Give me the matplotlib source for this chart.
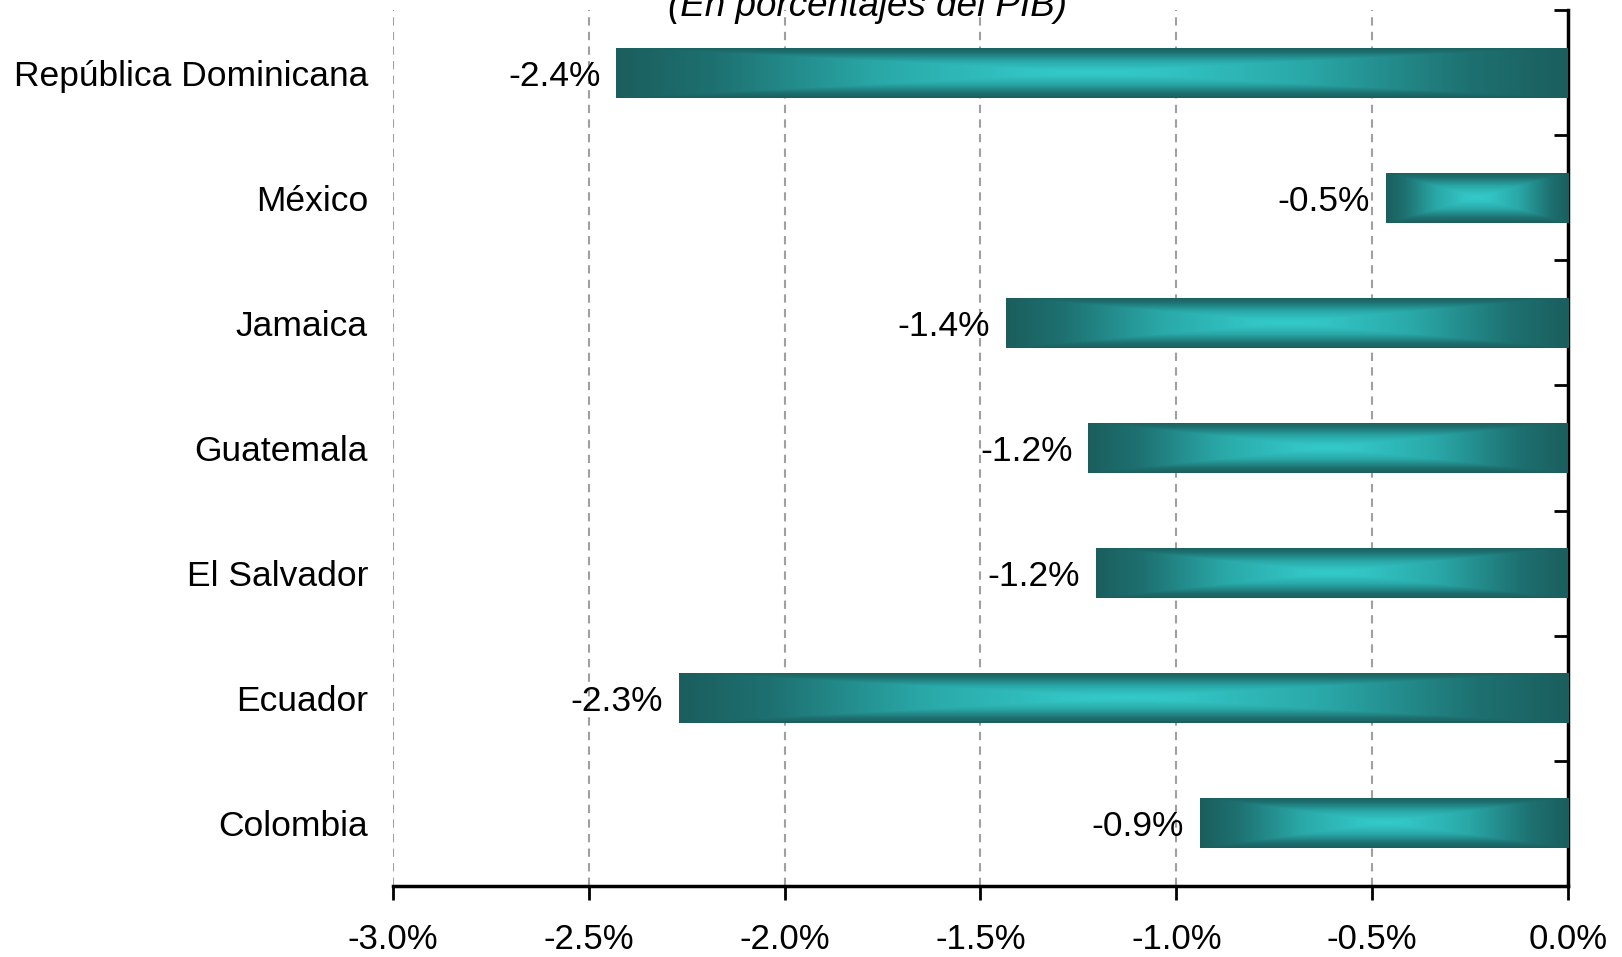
import numpy as np
import matplotlib
matplotlib.use("Agg")
import matplotlib.pyplot as plt
from matplotlib.colors import LinearSegmentedColormap
from matplotlib.ticker import FixedLocator, FuncFormatter

categories = ["República Dominicana", "México", "Jamaica", "Guatemala",
              "El Salvador", "Ecuador", "Colombia"]
values = [-2.43, -0.465, -1.435, -1.225, -1.205, -2.27, -0.94]
xticks = [-3.0, -2.5, -2.0, -1.5, -1.0, -0.5, 0.0]
title = "(En porcentajes del PIB)"

plt.rcParams['font.family'] = ['Liberation Sans', 'DejaVu Sans']

fig = plt.figure(figsize=(16.22, 9.57), dpi=100)
ax = fig.add_axes([0.2423, 0.0742, 0.9667 - 0.2423, 0.9895 - 0.0742])

ypos = np.arange(len(categories))
bars = ax.barh(ypos, values, height=0.40, color='none', edgecolor='none', zorder=3)

cmap = LinearSegmentedColormap.from_list(
    "tealbox",
    [(0.0, "#34caca"), (0.12, "#33c5c5"), (0.45, "#2aa8a8"),
     (0.8, "#1e7070"), (1.0, "#1b5e5e")])

ny, nx = 120, 600
yy = np.linspace(-1, 1, ny)[:, None]
xx = np.linspace(-1, 1, nx)[None, :]
grad = np.maximum(np.abs(xx), np.abs(yy))

for b in bars:
    x0, y0 = b.get_x(), b.get_y()
    w, h = b.get_width(), b.get_height()
    im = ax.imshow(grad, cmap=cmap, vmin=0, vmax=1, aspect='auto',
                   extent=[x0, x0 + w, y0 + h, y0], interpolation='bilinear',
                   zorder=3)
    im.set_clip_path(b)

for b, v in zip(bars, values):
    ax.text(v - 0.04, b.get_y() + b.get_height() / 2, f"{v:.1f}%",
            ha='right', va='center_baseline', fontsize=25.5, zorder=5)

ax.set_xlim(-3.0, 0.0)
ax.set_ylim(len(categories) - 0.5, -0.5)

ax.set_xticks(xticks)
ax.xaxis.set_major_formatter(FuncFormatter(lambda v, p: f"{v:.1f}%"))
ax.tick_params(axis='x', direction='out', length=10, width=2, pad=17,
               labelsize=25)

ax.set_yticks(ypos)
ax.set_yticklabels(categories)
ax.tick_params(axis='y', which='major', length=0, pad=18, labelsize=25.5)
ax.yaxis.set_minor_locator(FixedLocator(np.arange(-0.5, len(categories) + 0.5, 1.0)))
ax.tick_params(axis='y', which='minor', left=False, right=True,
               direction='in', length=10, width=2)

for x in xticks[:-1]:
    ax.axvline(x, color='#a0a0a0', linestyle=(0, (4, 3)), linewidth=1.5, zorder=1)

for s in ['top', 'left']:
    ax.spines[s].set_visible(False)
ax.spines['bottom'].set_linewidth(2.5)
ax.spines['right'].set_linewidth(2.5)

fig.text(0.535, 1 - 16 / 957, title, ha='center', va='baseline', fontsize=26.5,
         style='italic')

fig.savefig("out.png", dpi=100)
